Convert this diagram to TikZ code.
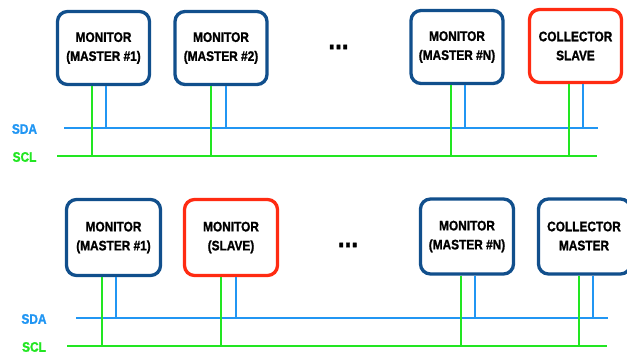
\documentclass[tikz,border=0pt]{standalone}
\usepackage{fontspec}
\newfontfamily\condsans[FakeStretch=0.86, FakeBold=1.2]{Liberation Sans Bold}
\setmainfont{Liberation Sans}
\definecolor{boxblue}{HTML}{114F8C}
\definecolor{boxred}{HTML}{FF2B12}
\definecolor{sdablue}{HTML}{2196F3}
\definecolor{sclgreen}{HTML}{22E622}
\tikzset{
  unit/.style={draw, rounded corners=10pt, line width=3.3pt, fill=white,
    minimum width=92pt, minimum height=73pt, align=center,
    font=\condsans\fontsize{13.8}{19}\selectfont, inner sep=0pt},
  master/.style={unit, draw=boxblue},
  slave/.style={unit, draw=boxred},
  busname/.style={font=\condsans\fontsize{13.8}{15}\selectfont},
  dots/.style={font=\condsans\fontsize{28}{28}\selectfont, inner sep=0pt},
  sda/.style={draw=sdablue, line width=1.8pt},
  scl/.style={draw=sclgreen, line width=1.8pt},
  tap/.style={line width=1.5pt},
}
\begin{document}
\begin{tikzpicture}[x=1pt, y=-1pt]
\useasboundingbox (0,0) rectangle (627,359);

% ---------- upper bus: one collector slave ----------
\node[master] (a1) at (103.5,48) {MONITOR\\(MASTER \#1)};
\node[master] (a2) at (221,48) {MONITOR\\(MASTER \#2)};
\node[dots]   (ad) at (338.5,47) {...};
\node[master] (an) at (457,47) {MONITOR\\(MASTER \#N)};
\node[slave]  (ac) at (575.5,46) {COLLECTOR\\SLAVE};

\node[busname, text=sdablue]   (asdal) at (24.5,129) {SDA};
\node[busname, text=sclgreen]  (ascll) at (24.5,157) {SCL};

\coordinate (asda0) at (64,128);  \coordinate (asda1) at (598,128);
\coordinate (ascl0) at (57,156);  \coordinate (ascl1) at (597,156);
\draw[sda] (asda0) -- (asda1);
\draw[scl] (ascl0) -- (ascl1);

\foreach \n/\g/\b in {a1/92/106, a2/211/226, an/451/465, ac/569/583}{
  \draw[scl, tap] (\n.south -| \g,0) -- (\g,156);
  \draw[sda, tap] (\n.south -| \b,0) -- (\b,128);
}

% ---------- lower bus: one collector master ----------
\node[master, minimum width=94pt, minimum height=76pt] (b1) at (113.5,237.5) {MONITOR\\(MASTER \#1)};
\node[slave,  minimum width=93pt, minimum height=76pt] (b2) at (231,237.5) {MONITOR\\(SLAVE)};
\node[dots]   (bd) at (348,245) {...};
\node[master, minimum width=93pt, minimum height=75pt] (bn) at (467,236.5) {MONITOR\\(MASTER \#N)};
\node[master, minimum width=92pt, minimum height=75pt] (bc) at (584.5,236.5) {};
\node[font=\condsans\fontsize{13.8}{19}\selectfont, align=center] (bct) at (584,236) {COLLECTOR\\MASTER};

\node[busname, text=sdablue]   (bsdal) at (34,319) {SDA};
\node[busname, text=sclgreen]  (bscll) at (34,347) {SCL};

\coordinate (bsda0) at (76,318);  \coordinate (bsda1) at (608,318);
\coordinate (bscl0) at (67,346);  \coordinate (bscl1) at (607,346);
\draw[sda] (bsda0) -- (bsda1);
\draw[scl] (bscl0) -- (bscl1);

\foreach \n/\g/\b in {b1/102/116, b2/221/236, bn/461/475, bc/579/593}{
  \draw[scl, tap] (\n.south -| \g,0) -- (\g,346);
  \draw[sda, tap] (\n.south -| \b,0) -- (\b,318);
}
\end{tikzpicture}
\end{document}
